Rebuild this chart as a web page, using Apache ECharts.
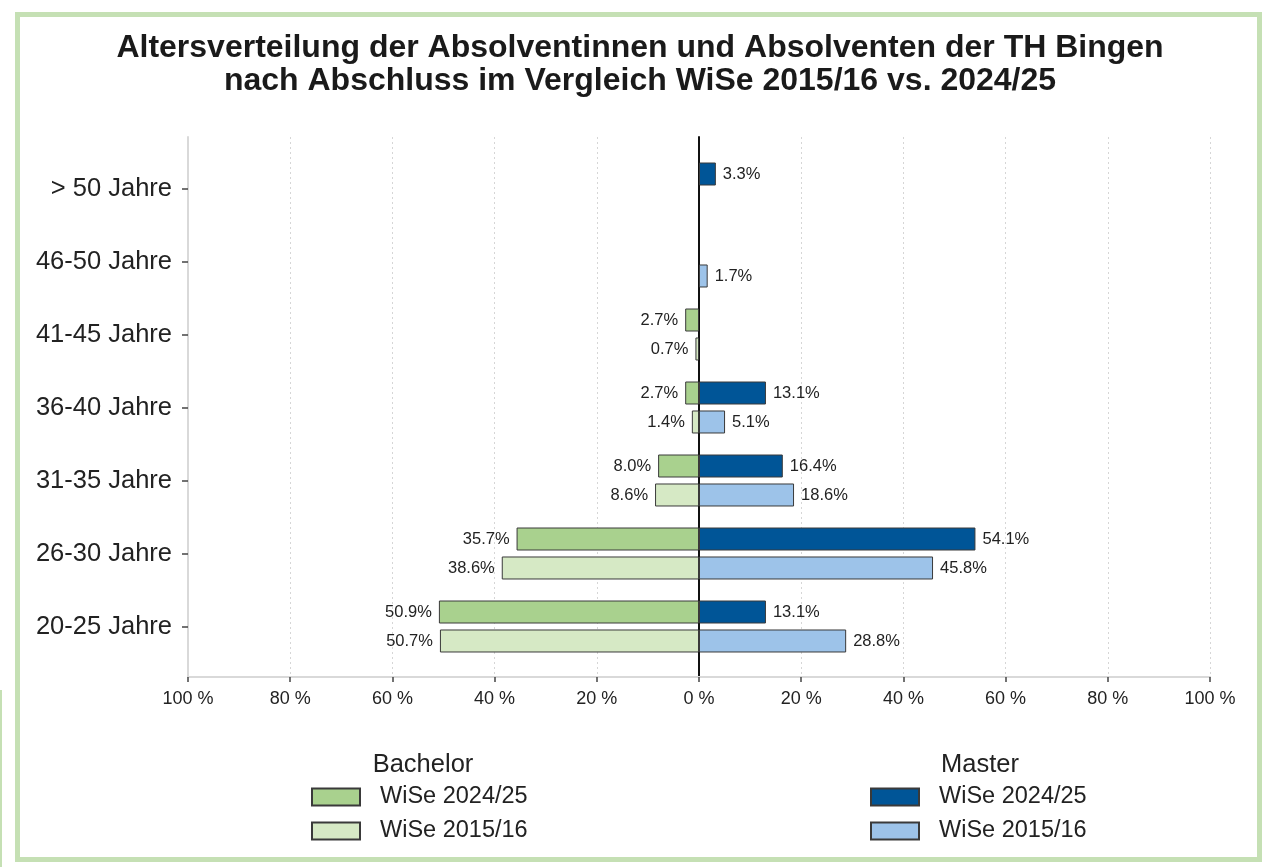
<!DOCTYPE html>
<html>
<head>
<meta charset="utf-8">
<script src="https://cdn.jsdelivr.net/npm/echarts@6/dist/echarts.min.js"></script>
<style>
  html, body { margin: 0; padding: 0; background: #fff; }
  #chart { width: 1271px; height: 867px; }
</style>
</head>
<body>
<div id="chart"></div>
<script>
// Altersgruppen von unten nach oben
var ageGroups = ['20-25 Jahre', '26-30 Jahre', '31-35 Jahre', '36-40 Jahre', '41-45 Jahre', '46-50 Jahre', '> 50 Jahre']
var bachelor2024 = [50.9, 35.7, 8.0, 2.7, 2.7, null, null]
var bachelor2015 = [50.7, 38.6, 8.6, 1.4, 0.7, null, null]
var master2024 = [13.1, 54.1, 16.4, 13.1, null, null, 3.3]
var master2015 = [28.8, 45.8, 18.6, 5.1, null, 1.7, null]
var xTicks = [-100, -80, -60, -40, -20, 0, 20, 40, 60, 80, 100]

var font = '"Liberation Sans", Arial, sans-serif'
var textColor = '#222'

var chart = echarts.init(document.getElementById('chart'))

function neg (arr) {
  return arr.map(function (v) { return v == null ? null : -v })
}

function barSeries (name, data, stack, color, side) {
  return {
    name: name,
    type: 'bar',
    xAxisIndex: 0,
    yAxisIndex: 0,
    stack: stack,
    data: data,
    barWidth: 23,
    barGap: '26%',
    itemStyle: { color: color, borderColor: '#3a3a3a', borderWidth: 1 },
    label: {
      show: true,
      position: side,
      distance: 7,
      fontFamily: font,
      fontSize: 16.5,
      color: textColor,
      formatter: function (p) {
        if (p.value == null) return ''
        return Math.abs(p.value).toFixed(1) + '%'
      }
    },
    emphasis: { disabled: true },
    animation: false
  }
}

function legendBlock (names, prefix, left) {
  return {
    data: names,
    orient: 'vertical',
    left: left,
    top: 785,
    padding: 0,
    itemWidth: 48,
    itemHeight: 17,
    itemGap: 10,
    icon: 'rect',
    selectedMode: false,
    formatter: function (n) { return n.replace(prefix, '') },
    textStyle: { fontFamily: font, fontSize: 23.5, color: textColor, padding: [0, 0, 0, 15] }
  }
}

var option = {
  animation: false,
  title: [
    {
      text: 'Altersverteilung der Absolventinnen und Absolventen der TH Bingen\nnach Abschluss im Vergleich WiSe 2015/16 vs. 2024/25',
      left: 635,
      top: 27,
      textAlign: 'center',
      textStyle: { fontFamily: font, fontSize: 32, fontWeight: 'bold', color: '#1a1a1a', lineHeight: 33 }
    },
    {
      text: 'Bachelor',
      left: 418,
      top: 747,
      textAlign: 'center',
      textStyle: { fontFamily: font, fontSize: 25.5, fontWeight: 'normal', color: textColor }
    },
    {
      text: 'Master',
      left: 975,
      top: 747,
      textAlign: 'center',
      textStyle: { fontFamily: font, fontSize: 25.5, fontWeight: 'normal', color: textColor }
    }
  ],
  legend: [
    legendBlock(['Bachelor WiSe 2024/25', 'Bachelor WiSe 2015/16'], 'Bachelor ', 311),
    legendBlock(['Master WiSe 2024/25', 'Master WiSe 2015/16'], 'Master ', 870)
  ],
  grid: [
    // Balken
    { left: 188, right: 61, top: 152, bottom: 204 },
    // Achse, Gitterlinien, Nulllinie
    { left: 188, right: 61, top: 137, bottom: 190 }
  ],
  xAxis: [
    {
      gridIndex: 0,
      type: 'value',
      min: -100,
      max: 100,
      show: false
    },
    {
      gridIndex: 1,
      type: 'value',
      min: -100,
      max: 100,
      interval: 20,
      axisLine: { show: true, onZero: false, lineStyle: { color: '#d9d9d9', width: 2 } },
      axisTick: { show: true, length: 5, lineStyle: { color: '#444', width: 1.5 } },
      axisLabel: {
        margin: 13,
        fontFamily: font,
        fontSize: 18,
        color: textColor,
        formatter: function (v) { return Math.abs(v) + ' %' }
      },
      splitLine: { show: true, lineStyle: { color: '#d6d6d6', type: [2, 3], width: 1 } }
    }
  ],
  yAxis: [
    {
      gridIndex: 0,
      type: 'category',
      data: ageGroups,
      axisLine: { show: false, onZero: false },
      axisTick: { show: true, alignWithLabel: true, length: 6, lineStyle: { color: '#444', width: 1.5 } },
      axisLabel: { margin: 16, fontFamily: font, fontSize: 25.5, color: textColor },
      splitLine: { show: false }
    },
    {
      gridIndex: 1,
      type: 'value',
      min: 0,
      max: 1,
      position: 'left',
      axisLine: { show: true, onZero: false, lineStyle: { color: '#d9d9d9', width: 2 } },
      axisTick: { show: false },
      axisLabel: { show: false },
      splitLine: { show: false }
    },
    {
      gridIndex: 1,
      type: 'value',
      min: 0,
      max: 1,
      position: 'left',
      axisLine: { show: true, onZero: true, lineStyle: { color: '#111', width: 2 } },
      axisTick: { show: false },
      axisLabel: { show: false },
      splitLine: { show: false }
    }
  ],
  series: [
    barSeries('Bachelor WiSe 2024/25', neg(bachelor2024), 'neu', '#a9d18e', 'left'),
    barSeries('Master WiSe 2024/25', master2024, 'neu', '#005597', 'right'),
    barSeries('Bachelor WiSe 2015/16', neg(bachelor2015), 'alt', '#d6e9c5', 'left'),
    barSeries('Master WiSe 2015/16', master2015, 'alt', '#9dc3e9', 'right')
  ],
  graphic: [
    {
      type: 'rect',
      shape: { x: 17.5, y: 14.5, width: 1242, height: 845 },
      style: { fill: 'none', stroke: '#c5e0b4', lineWidth: 5 },
      silent: true
    },
    {
      type: 'line',
      shape: { x1: 1, y1: 690, x2: 1, y2: 867 },
      style: { stroke: '#c5e0b4', lineWidth: 2 },
      silent: true
    }
  ]
}

chart.setOption(option)
</script>
</body>
</html>
